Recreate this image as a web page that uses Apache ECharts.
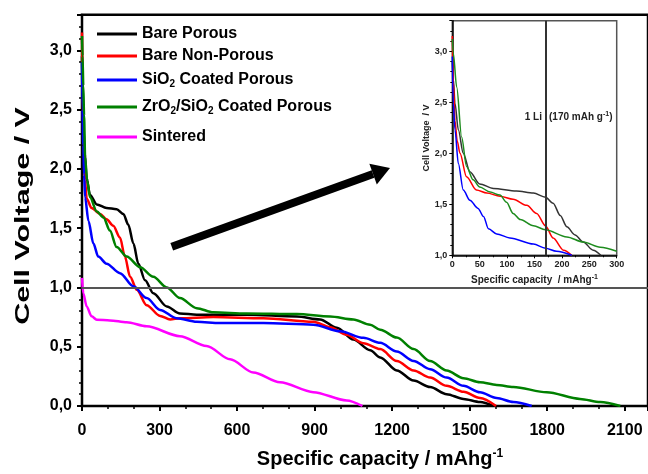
<!DOCTYPE html>
<html><head><meta charset="utf-8">
<script src="https://cdn.jsdelivr.net/npm/echarts@6/dist/echarts.min.js"></script>
<style>html,body{margin:0;padding:0;background:#fff}#c{width:648px;height:474px}</style>
</head><body><div id="c"></div>
<script>
// ---- data ----
const seriesNames = ['Bare Porous','Bare Non-Porous','SiO2 Coated Porous','ZrO2/SiO2 Coated Porous','Sintered'];
const seriesColors = ['#000000','#ff0000','#0000ff','#008000','#ff00ff'];

// main plot: [specific capacity (mAh/g), cell voltage (V)]
const barePorous = [[0,2.95],[3,2.6],[6,2.35],[10,2.15],[18,1.92],[31,1.78],[57,1.70],[95,1.67],[134,1.66],[160,1.62],[179,1.53],[199,1.37],[218,1.20],[244,1.06],[276,0.95],[328,0.84],[379,0.78],[444,0.77],[637,0.77],[831,0.755],[921,0.73],[986,0.66],[1050,0.56],[1115,0.47],[1154,0.41],[1218,0.30],[1283,0.214],[1347,0.16],[1411,0.10],[1476,0.06],[1540,0.034],[1592,0]];
const bareNonPorous = [[0,3.15],[3,2.6],[7,2.2],[12,1.9],[18,1.75],[37,1.67],[70,1.62],[95,1.575],[121,1.52],[147,1.42],[166,1.26],[186,1.09],[212,0.98],[250,0.85],[302,0.76],[341,0.73],[379,0.74],[508,0.75],[702,0.74],[895,0.71],[960,0.665],[1024,0.60],[1089,0.53],[1154,0.48],[1218,0.38],[1283,0.30],[1347,0.24],[1411,0.17],[1476,0.12],[1540,0.067],[1602,0]];
const sio2Coated = [[0,2.9],[2,2.5],[5,2.2],[8,1.95],[12,1.76],[25,1.56],[44,1.37],[63,1.26],[95,1.20],[147,1.12],[199,1.01],[250,0.91],[302,0.81],[366,0.74],[444,0.71],[534,0.70],[702,0.70],[895,0.686],[999,0.63],[1089,0.575],[1154,0.533],[1218,0.46],[1283,0.38],[1347,0.31],[1411,0.24],[1476,0.17],[1540,0.116],[1604,0.067],[1669,0.034],[1740,0]];
const zro2Sio2Coated = [[0,3.12],[2,2.95],[5,2.7],[8,2.45],[12,2.1],[20,1.9],[31,1.76],[57,1.64],[83,1.59],[108,1.48],[134,1.34],[173,1.26],[225,1.17],[276,1.09],[328,1.0],[379,0.91],[444,0.825],[508,0.79],[637,0.78],[831,0.775],[960,0.755],[1050,0.73],[1115,0.686],[1154,0.644],[1218,0.577],[1283,0.48],[1347,0.38],[1411,0.30],[1476,0.234],[1540,0.20],[1604,0.178],[1669,0.16],[1798,0.116],[1927,0.06],[2005,0.034],[2083,0]];
const sintered = [[0,1.08],[5,0.95],[18,0.84],[37,0.756],[57,0.728],[108,0.722],[173,0.706],[250,0.672],[379,0.589],[482,0.506],[573,0.394],[663,0.283],[766,0.2],[895,0.117],[1024,0.047],[1085,0]];

// inset: 0-300 mAh/g, 1.0-3.3 V
const insetBarePorous = [[0,2.9],[2,2.72],[4.9,2.49],[11,2.23],[20,2.0],[32,1.82],[50,1.70],[75,1.655],[117,1.63],[148,1.61],[170,1.57],[184,1.51],[197,1.39],[209,1.28],[224,1.20],[239,1.13],[257,1.05],[271,1.0]];
const insetBareNonPorous = [[0,3.15],[2,2.7],[4.9,2.32],[9,2.12],[14,2.0],[26,1.77],[44,1.64],[63,1.61],[87,1.58],[111,1.55],[136,1.49],[154,1.41],[170,1.29],[184,1.17],[203,1.05],[218,1.0]];
const insetSio2Coated = [[0,2.95],[1.8,2.49],[4.9,2.23],[11,1.9],[20,1.64],[32,1.54],[47,1.46],[57,1.38],[66,1.26],[81,1.21],[105,1.17],[148,1.11],[170,1.07],[190,1.04],[218,1.0]];
const insetZro2Sio2Coated = [[0,3.12],[1.8,2.98],[8,2.65],[17,2.16],[26,1.87],[38,1.74],[50,1.67],[69,1.62],[87,1.59],[99,1.52],[111,1.41],[124,1.35],[148,1.29],[170,1.25],[209,1.18],[239,1.13],[270,1.08],[300,1.04]];

const mainXTicks = [0,300,600,900,1200,1500,1800,2100];
const mainYTicks = ['0,0','0,5','1,0','1,5','2,0','2,5','3,0'];
const insetXTicks = [0,50,100,150,200,250,300];
const insetYTicks = ['1,0','1,5','2,0','2,5','3,0'];
const referenceVoltage = 1.0;   // horizontal line on main plot
const oneLiCapacity = 170;      // vertical line on inset

// ---- chart ----
const FF = '"Liberation Sans", Arial, sans-serif';
const chart = echarts.init(document.getElementById('c'), null, {renderer:'canvas'});
const fmtComma = v => v.toFixed(1).replace('.', ',');
const mainData = [barePorous, bareNonPorous, sio2Coated, zro2Sio2Coated, sintered];
const insetData = [insetBarePorous, insetBareNonPorous, insetSio2Coated, insetZro2Sio2Coated];

const legendLabel = {
  'Bare Porous':'Bare Porous',
  'Bare Non-Porous':'Bare Non-Porous',
  'SiO2 Coated Porous':'SiO{sub|2} Coated Porous',
  'ZrO2/SiO2 Coated Porous':'ZrO{sub|2}/SiO{sub|2} Coated Porous',
  'Sintered':'Sintered'
};
const legendCenters = [34, 56, 80, 107, 137];

const series = [];
mainData.forEach((d, i) => {
  const s = {
    name: seriesNames[i], type:'line', xAxisIndex:0, yAxisIndex:0, data:d,
    showSymbol:false, smooth:0.3, smoothMonotone:'x',
    lineStyle:{color:seriesColors[i], width:2.5}, itemStyle:{color:seriesColors[i]}, z:3
  };
  if (i === 4) {
    s.markLine = {silent:true, symbol:'none', animation:false, label:{show:false},
      lineStyle:{color:'#555', width:2, type:'solid'}, data:[{yAxis:referenceVoltage}]};
  }
  series.push(s);
});
insetData.forEach((d, i) => {
  const s = {
    name: seriesNames[i], type:'line', xAxisIndex:1, yAxisIndex:1, data:d,
    showSymbol:false, smooth:0.3, smoothMonotone:'x',
    lineStyle:{color: i===0 ? '#333' : (i===3 ? '#1e8c1e' : seriesColors[i]), width:1.5}, itemStyle:{color:seriesColors[i]}, z:3
  };
  if (i === 0) {
    s.markLine = {silent:true, symbol:'none', animation:false, label:{show:false},
      lineStyle:{color:'#333', width:2, type:'solid'}, data:[{xAxis:oneLiCapacity}]};
  }
  series.push(s);
});

const legends = seriesNames.map((n, i) => ({
  data:[n], left:97, top:legendCenters[i]-9, orient:'horizontal', padding:0,
  icon:'rect', itemWidth:40, itemHeight:3, itemGap:0, selectedMode:false,
  formatter: name => legendLabel[name],
  textStyle:{fontFamily:FF, fontSize:16, fontWeight:'bold', color:'#000', lineHeight:18,
    rich:{sub:{fontFamily:FF, fontSize:10, fontWeight:'bold', color:'#000', verticalAlign:'bottom', lineHeight:18, padding:[8,0,0,0]}}}
}));

// arrow geometry (decorative annotation)
const tip = [390,168], ux = 0.9407, uy = -0.3392, nx = 0.3392, ny = 0.9407;
const base = [tip[0]-18*ux, tip[1]-18*uy];
const tail = [base[0]-214*ux, base[1]-214*uy];

const option = {
  animation:false,
  backgroundColor:'#fff',
  grid:[
    {left:82, right:0, top:14.7, bottom:63.3, show:true, borderColor:'#000', borderWidth:2.5, containLabel:false},
    {left:452.3, top:20.7, width:164.4, height:234.6, show:true, borderColor:'#555', borderWidth:1.5, backgroundColor:'#fff', containLabel:false}
  ],
  legend: legends,
  xAxis:[
    {type:'value', gridIndex:0, min:0, max:2190, interval:300,
     name:'Specific capacity / mAhg{sup|-1}', nameLocation:'middle', nameGap:42,
     nameTextStyle:{fontFamily:FF, fontSize:20, fontWeight:'bold', color:'#000', padding:[0,0,0,30],
       rich:{sup:{fontFamily:FF, fontSize:12, fontWeight:'bold', color:'#000', verticalAlign:'top', padding:[0,0,10,0]}}},
     axisLine:{show:true, onZero:false, lineStyle:{color:'#000', width:2}},
     axisTick:{show:true, inside:false, length:5, lineStyle:{color:'#000', width:2}},
     minorTick:{show:true, splitNumber:3, length:3, lineStyle:{color:'#000', width:1.5}},
     splitLine:{show:false},
     axisLabel:{fontFamily:FF, fontSize:16, fontWeight:'bold', color:'#000', margin:17, showMaxLabel:false,
       formatter: v => mainXTicks.includes(v) ? String(v) : ''}},
    {type:'value', gridIndex:1, min:0, max:300, interval:50,
     name:'Specific capacity  / mAhg{sup|-1}', nameLocation:'middle', nameGap:18,
     nameTextStyle:{fontFamily:FF, fontSize:10, fontWeight:'bold', color:'#222',
       rich:{sup:{fontFamily:FF, fontSize:7, fontWeight:'bold', color:'#222', verticalAlign:'top', padding:[0,0,6,0]}}},
     axisLine:{show:true, onZero:false, lineStyle:{color:'#000', width:1.5}},
     axisTick:{show:true, inside:false, length:3, lineStyle:{color:'#000', width:1}},
     minorTick:{show:true, splitNumber:2, length:2, lineStyle:{color:'#000', width:1}},
     splitLine:{show:false},
     axisLabel:{fontFamily:FF, fontSize:9, fontWeight:'bold', color:'#222', margin:5,
       formatter: v => insetXTicks.includes(v) ? String(v) : ''}}
  ],
  yAxis:[
    {type:'value', gridIndex:0, min:0, max:3.3, interval:0.5,
     axisLine:{show:true, onZero:false, lineStyle:{color:'#000', width:2}},
     axisTick:{show:true, inside:false, length:5, lineStyle:{color:'#000', width:2}},
     minorTick:{show:true, splitNumber:5, length:3, lineStyle:{color:'#000', width:1.5}},
     splitLine:{show:false},
     axisLabel:{fontFamily:FF, fontSize:16, fontWeight:'bold', color:'#000', margin:10, showMaxLabel:false,
       formatter: v => { const t = fmtComma(v); return mainYTicks.includes(t) ? t : ''; }}},
    {type:'value', gridIndex:1, min:1, max:3.3, interval:0.5,
     name:'Cell Voltage  / V', nameLocation:'middle', nameGap:18, nameRotate:90,
     nameTextStyle:{fontFamily:FF, fontSize:9, fontWeight:'bold', color:'#222'},
     axisLine:{show:true, onZero:false, lineStyle:{color:'#000', width:1.5}},
     axisTick:{show:true, inside:false, length:3, lineStyle:{color:'#000', width:1}},
     minorTick:{show:true, splitNumber:5, length:2, lineStyle:{color:'#000', width:1}},
     splitLine:{show:false},
     axisLabel:{fontFamily:FF, fontSize:9, fontWeight:'bold', color:'#222', margin:5, showMaxLabel:false,
       formatter: v => { const t = fmtComma(v); return insetYTicks.includes(t) ? t : ''; }}}
  ],
  graphic:[
    {type:'text', x:23, y:216, rotation:Math.PI/2, scaleX:1.45, z:10,
     style:{text:'Cell Voltage / V', font:'bold 21px ' + FF, fill:'#000', textAlign:'center', textVerticalAlign:'middle'}},
    {type:'polyline', z:10, shape:{points:[tail, base]}, style:{stroke:'#000', lineWidth:8, fill:null}},
    {type:'polygon', z:10, shape:{points:[tip, [base[0]+11*nx, base[1]+11*ny], [base[0]-11*nx, base[1]-11*ny]]}, style:{fill:'#000'}},
    {type:'text', x:542, y:117, z:10,
     style:{text:'1 Li', font:'bold 10px ' + FF, fill:'#222', textAlign:'right', textVerticalAlign:'middle'}},
    {type:'text', x:549, y:117, z:10,
     style:{text:'(170 mAh g{sup|-1})', font:'bold 10px ' + FF, fill:'#222', textAlign:'left', textVerticalAlign:'middle',
       rich:{sup:{font:'bold 7px ' + FF, fill:'#222', verticalAlign:'top', padding:[0,0,6,0]}}}}
  ],
  series: series
};
chart.setOption(option);
</script>
</body></html>
